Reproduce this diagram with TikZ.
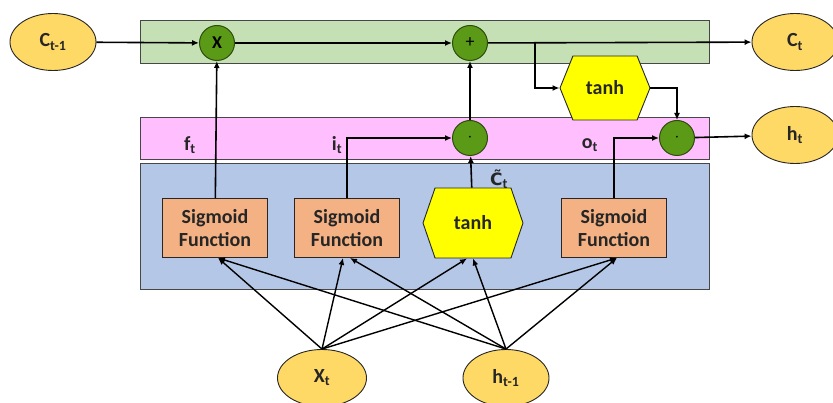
\documentclass[tikz,border=0pt]{standalone}
\usepackage{fontspec}
\setmainfont{Carlito}
\newfontfamily\lstmmarkfont{DejaVu Sans}
\usetikzlibrary{arrows.meta,positioning,shapes.geometric,shapes.symbols}
\definecolor{LstmLine}{HTML}{262626}
\definecolor{LstmGreen}{HTML}{C5E0B4}
\definecolor{LstmPink}{HTML}{FFBFFF}
\definecolor{LstmBlue}{HTML}{B4C7E7}
\definecolor{LstmSalmon}{HTML}{F4B183}
\definecolor{LstmYellow}{HTML}{FFFF00}
\definecolor{LstmGold}{HTML}{FFD966}
\definecolor{LstmLeaf}{HTML}{5B9A17}
\definecolor{LstmLeafDark}{HTML}{2E4D0C}
\tikzset{
  lstmfont/.style={font=\fontsize{20}{23}\selectfont\bfseries, text=LstmLine},
  band/.style={draw=LstmLine!85, line width=0.9pt},
  stateball/.style={ellipse, draw=LstmLine, line width=0.9pt, fill=LstmGold,
    minimum width=86pt, minimum height=57pt, inner sep=0pt, lstmfont},
  opball/.style={circle, draw=LstmLeafDark, line width=1pt, fill=LstmLeaf,
    minimum size=35pt, inner sep=0pt, font=\fontsize{18}{18}\selectfont, text=black},
  sigbox/.style={rectangle, draw=LstmLine, line width=0.9pt, fill=LstmSalmon,
    minimum width=105pt, minimum height=59pt, inner sep=0pt, align=center, lstmfont},
  tanhbox/.style={signal, signal to=east and west,
    draw=LstmLine, line width=0.9pt, fill=LstmYellow, inner sep=0pt, lstmfont},
  gatelabel/.style={lstmfont, inner sep=0pt},
  flow/.style={draw=black, line width=1.6pt, -{Latex[length=7pt,width=6pt]}},
  feed/.style={draw=black, line width=1.4pt, -{Latex[length=7pt,width=6pt]}}
}
\begin{document}
\begin{tikzpicture}[x=1pt,y=-1pt]
  \useasboundingbox (0,0) rectangle (833,403);
  \fill[white] (0,0) rectangle (833,403);

  % the three bands
  \draw[band, fill=LstmGreen] (140,20) rectangle (709,63);
  \draw[band, fill=LstmPink] (140,117) rectangle (709,159);
  \draw[band, fill=LstmBlue] (140,163) rectangle (709,289);

  % states
  \node[stateball] (cprev) at (53,42) {C\textsubscript{t-1}};
  \node[stateball] (cnext) at (795,42) {C\textsubscript{t}};
  \node[stateball] (hnext) at (795,135) {h\textsubscript{t}};
  \node[stateball, minimum width=89pt] (xin) at (322,378) {X\textsubscript{t}};
  \node[stateball] (hin) at (506,378) {h\textsubscript{t-1}};

  % pointwise ops
  \node[opball] (mulf) at (217,43) {\textbf{X}};
  \node[opball] (addc) at (470,43) {+};
  \node[opball] (muli) at (470,138) {$\cdot$};
  \node[opball] (mulo) at (677,138) {$\cdot$};

  % gates
  \node[sigbox] (sigf) at (215,228) {Sigmoid\\Function};
  \node[sigbox] (sigi) at (347,228) {Sigmoid\\Function};
  \node[tanhbox, signal pointer angle=142, minimum width=100pt, minimum height=70pt]
    (tanhg) at (473,223) {tanh};
  \node[sigbox] (sigo) at (614,228) {Sigmoid\\Function};
  \node[tanhbox, signal pointer angle=136, minimum width=90pt, minimum height=64pt]
    (tanhc) at (605,88) {tanh};

  \node[gatelabel] (lf) at (190,145) {f\textsubscript{t}};
  \node[gatelabel] (li) at (337,145) {i\textsubscript{t}};
  \node[gatelabel] (lo) at (590,145) {o\textsubscript{t}};
  \node[gatelabel] (lc) at (499,179)
    {{\lstmmarkfont\fontsize{17}{20}\selectfont C^^^^0303}\textsubscript{t}};

  % cell state line
  \draw[flow] (cprev) -- (mulf);
  \draw[flow] (mulf) -- (addc);
  \draw[flow] (addc) -- (cnext);
  \coordinate (split) at (535,43);
  \draw[flow] (split) |- (tanhc.west);
  \draw[flow] (tanhc.east) -| (mulo.north);
  \draw[flow] (muli) -- (addc);
  \draw[flow] (mulo) -- (hnext);

  % gate outputs
  \draw[flow] (sigf) -- (mulf);
  \draw[flow] (sigi.north) |- (muli.west);
  \draw[flow] (tanhg) -- (muli);
  \draw[flow] (sigo.north) |- (mulo.west);

  % inputs
  \foreach \src in {xin,hin}{
    \draw[feed] (\src.north) -- ([xshift=3pt]sigf.south);
    \draw[feed] (\src.north) -- ([xshift=3pt]sigo.south);
  }
  \draw[feed] (xin.north) -- ([xshift=-4pt]sigi.south);
  \draw[feed] (hin.north) -- ([xshift=3pt]sigi.south);
  \draw[feed] (xin.north) -- ([xshift=-6pt]tanhg.south);
  \draw[feed] (hin.north) -- ([xshift=0pt]tanhg.south);
\end{tikzpicture}
\end{document}
